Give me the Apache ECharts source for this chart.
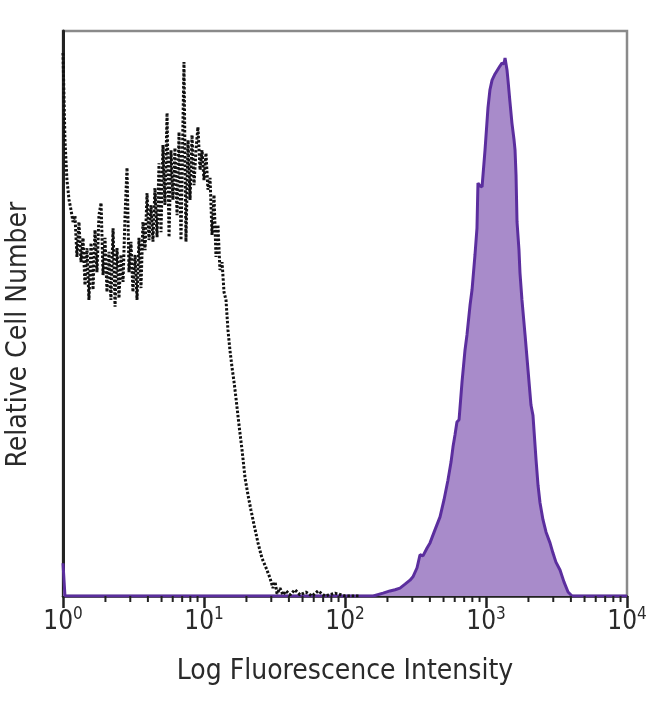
<!DOCTYPE html>
<html>
<head>
<meta charset="utf-8">
<script src="https://cdn.jsdelivr.net/npm/echarts@6/dist/echarts.min.js"></script>
<style>
html,body{margin:0;padding:0;background:#fff;}
#chart{width:650px;height:704px;}
</style>
</head>
<body>
<div id="chart"></div>
<script>
// ---- data (x as log10 exponent of fluorescence intensity, y as relative cell number, % of max) ----
const isoExp = [0,0.014,0.028,0.043,0.057,0.071,0.085,0.099,0.113,0.128,0.142,0.156,0.170,0.184,0.199,0.213,0.227,0.241,0.255,0.270,0.284,0.298,0.312,0.326,0.340,0.355,0.369,0.383,0.397,0.411,0.426,0.440,0.454,0.468,0.482,0.496,0.511,0.525,0.539,0.553,0.567,0.582,0.596,0.610,0.624,0.638,0.652,0.667,0.681,0.695,0.709,0.723,0.738,0.752,0.766,0.780,0.794,0.809,0.823,0.837,0.858,0.872,0.887,0.901,0.915,0.929,0.943,0.957,0.972,0.986,1.000,1.014,1.028,1.043,1.057,1.071,1.085,1.099,1.113,1.128,1.142,1.156,1.170,1.184,1.199,1.213,1.227,1.248,1.270,1.291,1.312,1.333,1.355,1.383,1.411,1.440,1.468,1.489,1.504,1.518,1.539,1.560,1.582,1.610,1.645,1.681,1.723,1.766,1.809,1.858,1.929,2.000,2.106];
const isoVal = [96.1,80.7,73.6,70.1,68.3,66.2,67.3,60.0,66.2,59.1,63.4,55.0,61.6,52.4,62.5,54.2,64.8,57.3,67.4,69.6,56.8,63.4,53.8,60.9,52.4,65.1,51.2,61.6,52.7,60.4,55.6,67.4,75.8,57.3,62.7,53.8,60.4,52.4,63.4,54.5,66.2,61.2,71.3,63.0,69.2,62.7,72.2,63.5,76.6,64.4,79.8,69.2,85.5,63.5,78.9,70.1,79.3,67.4,82.1,63.0,94.5,62.7,80.7,70.1,81.6,72.7,78.9,83.0,75.4,78.9,73.6,78.4,71.9,74.0,63.9,71.0,60.0,65.7,57.7,59.1,53.8,52.4,47.1,43.5,40.4,37.9,35.0,30.3,25.8,20.9,17.9,15.2,12.6,9.4,6.7,5.0,3.2,1.4,2.5,0.4,1.4,0.2,0.9,0.2,1.1,0.2,0.7,0,0.9,0,0.5,0,0];

const stainExp = [0,0.014,2.200,2.270,2.319,2.355,2.390,2.426,2.461,2.482,2.511,2.532,2.553,2.582,2.603,2.638,2.674,2.702,2.730,2.752,2.766,2.780,2.794,2.809,2.830,2.851,2.865,2.887,2.901,2.922,2.936,2.943,2.957,2.972,2.993,3.014,3.028,3.043,3.064,3.078,3.099,3.113,3.128,3.135,3.149,3.156,3.170,3.184,3.199,3.206,3.213,3.220,3.234,3.241,3.255,3.277,3.298,3.319,3.333,3.355,3.369,3.383,3.404,3.426,3.454,3.475,3.496,3.525,3.553,3.582,3.610,3.667,4.000];
const stainVal = [5.8,0,0,0.5,0.9,1.1,1.4,2.1,2.8,3.4,5.0,7.3,7.1,8.5,9.4,11.7,14.0,17.0,20.5,23.7,26.4,28.5,30.8,31.2,37.9,43.5,46.2,51.5,54.2,60.4,65.1,73.1,72.6,72.4,78.9,86.4,89.6,91.3,92.4,92.7,93.8,94.3,94.2,95.2,93.1,91.3,87.4,83.7,80.7,78.9,74.5,66.2,61.2,57.2,52.4,46.2,40.0,33.8,32.0,24.1,19.6,16.5,13.5,11.3,9.4,7.6,6.0,4.6,2.5,0.7,0,0,0];

const minorTickValues = [2,3,4,5,6,7,8,9,20,30,40,50,60,70,80,90,200,300,400,500,600,700,800,900,2000,3000,4000,5000,6000,7000,8000,9000];
const xTitle = 'Log Fluorescence Intensity';
const yTitle = 'Relative Cell Number';

const FONT = "'Liberation Sans Narrow','DejaVu Sans Condensed','Liberation Sans',sans-serif";

const toPts = (ex, vals) => ex.map((e, i) => [Math.pow(10, e), vals[i]]);

const chart = echarts.init(document.getElementById('chart'), null, {renderer: 'canvas'});
chart.setOption({
  animation: false,
  backgroundColor: '#fff',
  grid: {left: 63, right: 23, top: 31, bottom: 108, outerBoundsMode: 'none', containLabel: false,
         show: true, borderColor: '#8a8a8a', borderWidth: 2.5, backgroundColor: 'transparent'},
  xAxis: {
    type: 'log', logBase: 10, min: 1, max: 10000,
    name: xTitle, nameLocation: 'middle', nameGap: 62,
    nameTextStyle: {fontFamily: FONT, fontSize: 28, color: '#2a2a2a'},
    axisLine: {show: true, lineStyle: {color: '#222', width: 2.5}},
    axisTick: {show: true, inside: false, length: 12, lineStyle: {color: '#222', width: 2.5}},
    splitLine: {show: false},
    minorTick: {show: false},
    axisLabel: {
      margin: 10,
      formatter: v => '{b|10}{s|' + Math.round(Math.log10(v)) + '}',
      rich: {
        b: {fontFamily: FONT, fontSize: 26, color: '#2a2a2a', verticalAlign: 'bottom'},
        s: {fontFamily: FONT, fontSize: 17, color: '#2a2a2a', verticalAlign: 'bottom', padding: [0, 0, 12, 0]}
      }
    }
  },
  yAxis: {
    type: 'value', min: 0, max: 100,
    name: yTitle, nameLocation: 'middle', nameGap: 30,
    nameTextStyle: {fontFamily: FONT, fontSize: 28, color: '#2a2a2a', padding: [0, 42, 0, 0]},
    axisLine: {show: true, lineStyle: {color: '#222', width: 3}},
    axisTick: {show: false}, axisLabel: {show: false}, splitLine: {show: false}
  },
  series: [
    {
      type: 'line', data: toPts(isoExp, isoVal), symbol: 'none', smooth: false,
      lineStyle: {color: '#111', width: 3, type: [2.5, 1.8]}, z: 3
    },
    {
      type: 'line', data: toPts(stainExp, stainVal), symbol: 'none', smooth: false,
      lineStyle: {color: '#5b2e9e', width: 3}, areaStyle: {color: '#a88bca', opacity: 1}, z: 2
    },
    {
      type: 'custom', data: minorTickValues.map(v => [v, 0]), clip: false, silent: true,
      renderItem: (params, api) => {
        const p = api.coord([api.value(0), api.value(1)]);
        return {type: 'line', shape: {x1: p[0], y1: p[1], x2: p[0], y2: p[1] + 6}, style: {stroke: '#222', lineWidth: 2}};
      }, z: 4
    }
  ]
});
</script>
</body>
</html>
